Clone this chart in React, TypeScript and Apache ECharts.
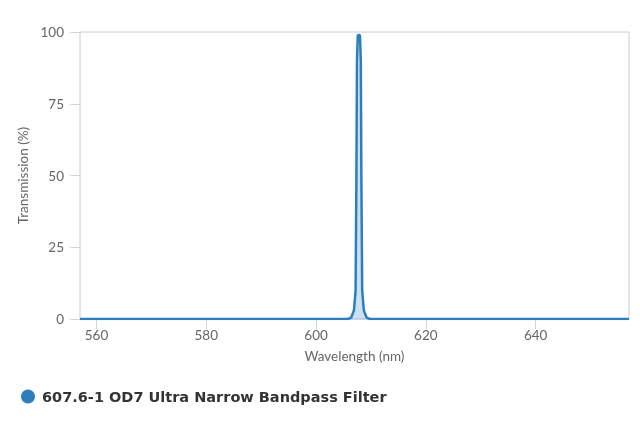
import { useEffect, useRef } from 'react'
import * as echarts from 'echarts'

const SERIES_NAME = '607.6-1 OD7 Ultra Narrow Bandpass Filter'
// wavelength (nm) / transmission (%)
const wavelengths = [557, 605.8, 606.4, 606.9, 607.2, 607.35, 607.45, 607.6, 607.8, 608.0, 608.15, 608.25, 608.4, 608.7, 609.2, 609.8, 657]
const transmission = [0, 0, 0.5, 3, 10, 50, 90, 98.8, 99, 98.8, 90, 50, 10, 3, 0.5, 0, 0]
const xTicks = [560, 580, 600, 620, 640]
const yTicks = [0, 25, 50, 75, 100]

const BLUE = '#2f7ebc'
const AXIS = '#ccd6eb'
const LABEL = { color: '#666666', fontSize: 13.5 }

export default function App() {
  const ref = useRef<HTMLDivElement>(null)

  useEffect(() => {
    if (!ref.current) {
      return
    }
    const chart = echarts.init(ref.current, undefined, { renderer: 'svg' })
    chart.setOption({
      animation: false,
      textStyle: { fontFamily: 'Lato, sans-serif' },
      grid: {
        left: 80, right: 11, top: 32, bottom: 108,
        show: true, borderColor: '#cccccc', borderWidth: 1,
      },
      legend: {
        left: 16, top: 384,
        icon: 'circle', itemWidth: 14, itemHeight: 14, itemGap: 6,
        textStyle: { fontFamily: '"DejaVu Sans", sans-serif', fontWeight: 'bold', fontSize: 14.5, color: '#333333', padding: [0, 0, 0, 2] },
        data: [SERIES_NAME],
      },
      xAxis: {
        type: 'value', min: 557, max: 657,
        name: 'Wavelength (nm)', nameLocation: 'middle', nameGap: 30,
        nameTextStyle: LABEL,
        splitLine: { show: false },
        axisLine: { show: true, lineStyle: { color: AXIS } },
        axisTick: { show: true, length: 10, lineStyle: { color: AXIS }, customValues: xTicks },
        axisLabel: { ...LABEL, margin: 9, customValues: xTicks },
      },
      yAxis: {
        type: 'value', min: 0, max: 100, interval: 25,
        name: 'Transmission (%)', nameLocation: 'middle', nameGap: 50,
        nameTextStyle: LABEL,
        splitLine: { show: false },
        axisLine: { show: false },
        axisTick: { show: true, length: 10, lineStyle: { color: AXIS }, customValues: yTicks },
        axisLabel: { ...LABEL, margin: 16, customValues: yTicks },
      },
      series: [
        {
          name: SERIES_NAME,
          type: 'line',
          showSymbol: false,
          color: BLUE,
          lineStyle: { width: 2.5, color: BLUE },
          areaStyle: { color: 'rgba(47, 126, 188, 0.35)' },
          data: wavelengths.map((w, i) => [w, transmission[i]]),
        },
      ],
    })
    return () => chart.dispose()
  }, [])

  return <div ref={ref} style={{ position: 'fixed', left: 0, top: 0, width: 640, height: 427 }} />
}
